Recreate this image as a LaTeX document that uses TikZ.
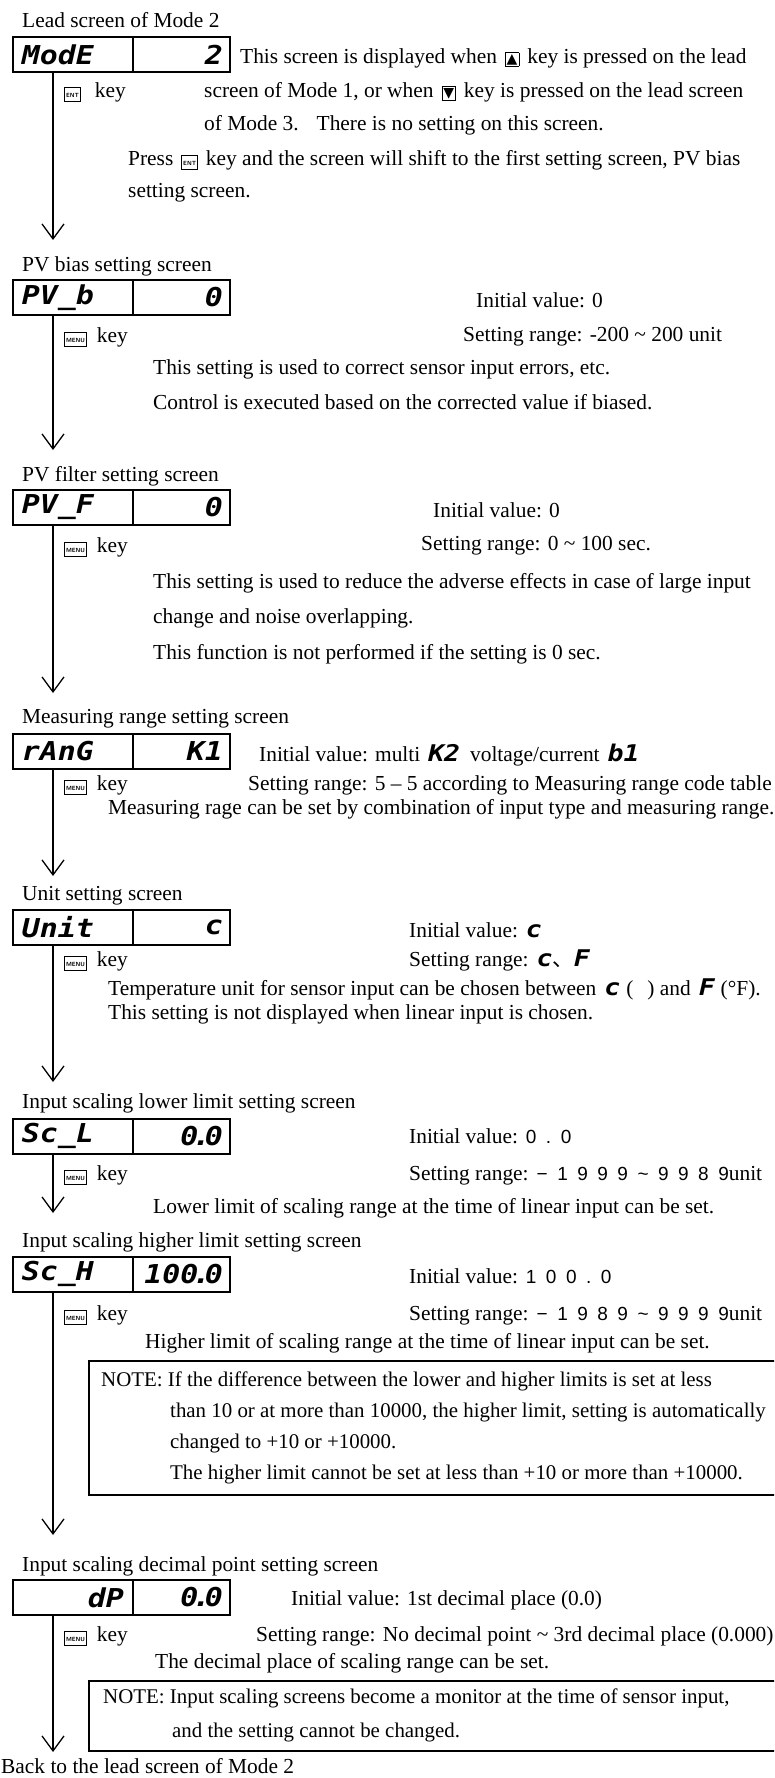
\documentclass[tikz,border=0pt]{standalone}
\usepackage{fontspec}
\setmainfont{Liberation Serif}
\newfontfamily\lcdfont{DejaVu Sans Mono Bold Oblique}[FakeStretch=1.15]
\newfontfamily\numfont{Liberation Sans}[LetterSpace=50]
\newfontfamily\symfont{DejaVu Sans}
\newfontfamily\cjk{Noto Sans CJK JP}
\usetikzlibrary{arrows.meta}

\newcommand{\seg}[1]{{\fontsize{23}{23}\lcdfont #1}}
\newcommand{\lcdnum}[1]{{\fontsize{19}{19}\numfont #1}}
\newcommand{\dpt}{\kern-0.22em.\kern-0.22em}
\newcommand{\keyicon}[1]{{\setlength{\fboxsep}{1.2pt}\setlength{\fboxrule}{0.6pt}%
  \fbox{\fontsize{6}{6}\sffamily\bfseries\rule[-3pt]{0pt}{11pt}#1}}}
\newcommand{\entkey}{\keyicon{ENT}}
\newcommand{\menukey}{\keyicon{MENU}}
\newcommand{\arrowkey}[1]{{\setlength{\fboxsep}{1pt}\setlength{\fboxrule}{0.8pt}%
  \fbox{\fontsize{14}{14}\symfont #1}}}

\begin{document}
\begin{tikzpicture}[x=1pt, y=-1pt]
	\tikzset{txt/.style={anchor=base west, inner sep=0pt, font=\fontsize{21.4}{24}\selectfont}}
	\tikzset{notetxt/.style={txt, font=\fontsize{20.9}{24}\selectfont}}
	\tikzset{lcdcell/.style={draw, line width=1.8pt, minimum height=35pt, inner ysep=0pt,
				anchor=north west, font={\fontsize{26}{26}\lcdfont}}}
	\tikzset{lcdname/.style={lcdcell, minimum width=120pt, text width=102pt, inner xsep=9pt, align=left}}
	\tikzset{lcdvalue/.style={lcdcell, minimum width=97pt, text width=83pt, inner xsep=7pt, align=right}}
	\tikzset{flowline/.style={line width=1.3pt, -{Straight Barb[length=15pt, width=22pt]}}}
	\tikzset{notebox/.style={draw, line width=1.5pt, inner sep=0pt, anchor=north west}}

	\clip (0,0) rectangle (774,1778);

	% lead screen of mode 2
	\node[txt] (title1) at (22,27) {Lead screen of Mode 2};
	\node[lcdname] (lcdA1) at (12,36) {ModE};
	\node[lcdvalue] (lcdB1) at (132,36) {2};
	\node[txt] (key1) at (64,97) {\entkey\hspace{14pt}key};
	\node[txt] (desc1a) at (240,63) {This screen is displayed when\hspace{8pt}\arrowkey{▲}\hspace{8pt}key is pressed on the lead};
	\node[txt] (desc1b) at (204,97) {screen of Mode 1, or when\hspace{8pt}\arrowkey{▼}\hspace{8pt}key is pressed on the lead screen};
	\node[txt] (desc1c) at (204,130) {of Mode 3.\hspace{18pt}There is no setting on this screen.};
	\node[txt] (desc1d) at (128,165) {Press\hspace{8pt}\entkey\hspace{8pt}key and the screen will shift to the first setting screen, PV bias};
	\node[txt] (desc1e) at (128,197) {setting screen.};
	\coordinate (tip1) at (53,240);
	\draw[flowline] (lcdA1.south west -| tip1) -- (tip1);

	% PV bias
	\node[txt] (title2) at (22,271) {PV bias setting screen};
	\node[lcdname] (lcdA2) at (12,279) {PV\_b};
	\node[lcdvalue] (lcdB2) at (132,279) {0};
	\node[txt] (key2) at (64,342) {\menukey\hspace{10pt}key};
	\node[txt] (init2) at (476,307) {Initial value: 0};
	\node[txt] (range2) at (463,341) {Setting range: -200 \textasciitilde\ 200 unit};
	\node[txt] (desc2a) at (153,374) {This setting is used to correct sensor input errors, etc.};
	\node[txt] (desc2b) at (153,409) {Control is executed based on the corrected value if biased.};
	\coordinate (tip2) at (53,450);
	\draw[flowline] (lcdA2.south west -| tip2) -- (tip2);

	% PV filter
	\node[txt] (title3) at (22,481) {PV filter setting screen};
	\node[lcdname] (lcdA3) at (12,489) {PV\_F};
	\node[lcdvalue] (lcdB3) at (132,489) {0};
	\node[txt] (key3) at (64,552) {\menukey\hspace{10pt}key};
	\node[txt] (init3) at (433,517) {Initial value: 0};
	\node[txt] (range3) at (421,550) {Setting range: 0 \textasciitilde\ 100 sec.};
	\node[txt] (desc3a) at (153,588) {This setting is used to reduce the adverse effects in case of large input};
	\node[txt] (desc3b) at (153,623) {change and noise overlapping.};
	\node[txt] (desc3c) at (153,659) {This function is not performed if the setting is 0 sec.};
	\coordinate (tip3) at (53,693);
	\draw[flowline] (lcdA3.south west -| tip3) -- (tip3);

	% measuring range
	\node[txt] (title4) at (22,723) {Measuring range setting screen};
	\node[lcdname] (lcdA4) at (12,733) {rAnG};
	\node[lcdvalue] (lcdB4) at (132,733) {K1};
	\node[txt] (init4) at (259,761) {Initial value: multi\hspace{8pt}\seg{K2}\hspace{10pt}voltage/current\hspace{8pt}\seg{b1}};
	\node[txt] (key4) at (64,790) {\menukey\hspace{10pt}key};
	\node[txt] (range4) at (248,790) {Setting range: 5 – 5 according to Measuring range code table};
	\node[txt] (desc4) at (108,814) {Measuring rage can be set by combination of input type and measuring range.};
	\coordinate (tip4) at (53,876);
	\draw[flowline] (lcdA4.south west -| tip4) -- (tip4);

	% unit
	\node[txt] (title5) at (22,900) {Unit setting screen};
	\node[lcdname] (lcdA5) at (12,909) {Unit};
	\node[lcdvalue] (lcdB5) at (132,909) {c};
	\node[txt] (init5) at (409,937) {Initial value:\hspace{8pt}\seg{c}};
	\node[txt] (key5) at (64,966) {\menukey\hspace{10pt}key};
	\node[txt] (range5) at (409,966) {Setting range:\hspace{8pt}\seg{c}{\cjk 、}\seg{F}};
	\node[txt] (desc5a) at (108,995) {Temperature unit for sensor input can be chosen between\hspace{8pt}\seg{c}\hspace{6pt}(\hspace{14pt}) and\hspace{8pt}\seg{F}\hspace{6pt}(°F).};
	\node[txt] (desc5b) at (108,1019) {This setting is not displayed when linear input is chosen.};
	\coordinate (tip5) at (53,1082);
	\draw[flowline] (lcdA5.south west -| tip5) -- (tip5);

	% scaling lower limit
	\node[txt] (title6) at (22,1108) {Input scaling lower limit setting screen};
	\node[lcdname] (lcdA6) at (12,1118) {Sc\_L};
	\node[lcdvalue] (lcdB6) at (132,1118) {0\dpt 0};
	\node[txt] (init6) at (409,1143) {Initial value:\hspace{8pt}\lcdnum{0.0}};
	\node[txt] (key6) at (64,1180) {\menukey\hspace{10pt}key};
	\node[txt] (range6) at (409,1180) {Setting range:\hspace{8pt}\lcdnum{−1999\textasciitilde 9989}unit};
	\node[txt] (desc6) at (153,1213) {Lower limit of scaling range at the time of linear input can be set.};
	\coordinate (tip6) at (53,1213);
	\draw[flowline] (lcdA6.south west -| tip6) -- (tip6);

	% scaling higher limit
	\node[txt] (title7) at (22,1247) {Input scaling higher limit setting screen};
	\node[lcdname] (lcdA7) at (12,1256) {Sc\_H};
	\node[lcdvalue] (lcdB7) at (132,1256) {100\dpt 0};
	\node[txt] (init7) at (409,1283) {Initial value:\hspace{8pt}\lcdnum{100.0}};
	\node[txt] (key7) at (64,1320) {\menukey\hspace{10pt}key};
	\node[txt] (range7) at (409,1320) {Setting range:\hspace{8pt}\lcdnum{−1989\textasciitilde 9999}unit};
	\node[txt] (desc7) at (145,1348) {Higher limit of scaling range at the time of linear input can be set.};
	\node[notebox, minimum width=690pt, minimum height=134pt] (note7) at (88,1360) {};
	\node[notetxt] (note7a) at (101,1386) {NOTE: If the difference between the lower and higher limits is set at less};
	\node[notetxt] (note7b) at (170,1417) {than 10 or at more than 10000, the higher limit, setting is automatically};
	\node[notetxt] (note7c) at (170,1448) {changed to +10 or +10000.};
	\node[notetxt] (note7d) at (170,1479) {The higher limit cannot be set at less than +10 or more than +10000.};
	\coordinate (tip7) at (53,1535);
	\draw[flowline] (lcdA7.south west -| tip7) -- (tip7);

	% decimal point
	\node[txt] (title8) at (22,1571) {Input scaling decimal point setting screen};
	\node[lcdname, align=right] (lcdA8) at (12,1579) {dP};
	\node[lcdvalue] (lcdB8) at (132,1579) {0\dpt 0};
	\node[txt] (init8) at (291,1605) {Initial value: 1st decimal place (0.0)};
	\node[txt] (key8) at (64,1641) {\menukey\hspace{10pt}key};
	\node[txt] (range8) at (256,1641) {Setting range: No decimal point \textasciitilde\ 3rd decimal place (0.000)};
	\node[txt] (desc8) at (155,1668) {The decimal place of scaling range can be set.};
	\node[notebox, minimum width=690pt, minimum height=70pt] (note8) at (88,1680) {};
	\node[notetxt] (note8a) at (103,1703) {NOTE: Input scaling screens become a monitor at the time of sensor input,};
	\node[notetxt] (note8b) at (172,1737) {and the setting cannot be changed.};
	\coordinate (tip8) at (53,1752);
	\draw[flowline] (lcdA8.south west -| tip8) -- (tip8);

	\node[txt] (back) at (1,1773) {Back to the lead screen of Mode 2};
\end{tikzpicture}
\end{document}
